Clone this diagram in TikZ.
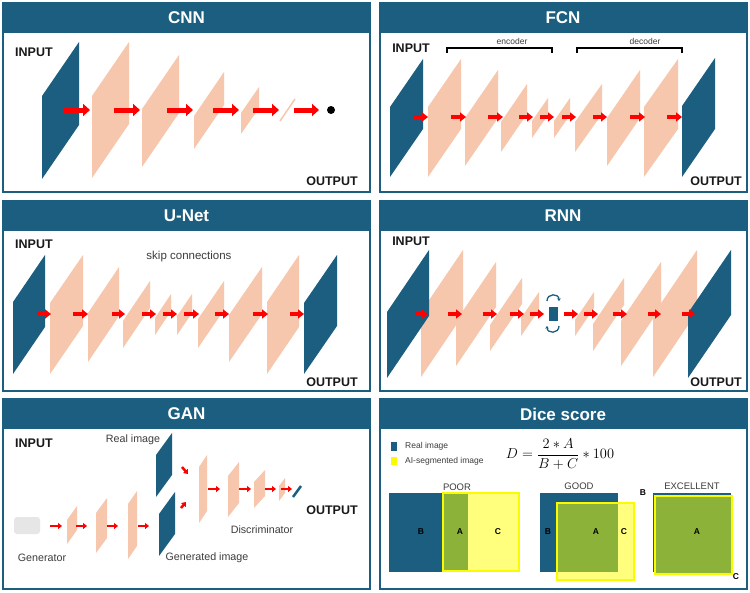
\documentclass[tikz,border=0pt]{standalone}
\usepackage{fontspec}
\setmainfont{Liberation Sans}
\usetikzlibrary{arrows.meta}
\definecolor{myblue}{RGB}{27,94,127}
\definecolor{peach}{RGB}{246,199,173}
\definecolor{arred}{RGB}{255,0,0}
\definecolor{olive}{RGB}{140,178,58}
\definecolor{ylw}{RGB}{250,250,0}
\definecolor{lylw}{RGB}{255,255,125}
\definecolor{txtd}{RGB}{25,25,25}
\definecolor{txtg}{RGB}{60,60,60}
\definecolor{lgray}{RGB}{230,230,230}
\newcommand{\myfs}[1]{\fontsize{#1}{#1}\selectfont}
% style, xleft, xright, right-top y, left-bottom y, height
\newcommand{\plg}[6]{\fill[#1] (#2,{#5-#6}) -- (#3,#4) -- (#3,{#4+#6}) -- (#2,#5) -- cycle;}
\begin{document}
\begin{tikzpicture}[x=1pt,y=-1pt,
  ttl/.style={text=white,font=\myfs{17}\bfseries,inner sep=0},
  io/.style={text=txtd,font=\myfs{12.5}\bfseries,inner sep=0},
  small/.style={text=txtg,font=\myfs{10.7},inner sep=0},
  tiny/.style={text=txtg,font=\myfs{8.5},inner sep=0},
  abc/.style={text=black,font=\myfs{8.5}\bfseries,inner sep=0},
  qual/.style={text=txtg,font=\myfs{9.5},inner sep=0},
  panelb/.style={draw=myblue,line width=2pt},
  arA/.style={draw=arred,line width=5pt,-{Triangle[length=7pt,width=12pt]}},
  arB/.style={draw=arred,line width=4pt,-{Triangle[length=6pt,width=9pt]}},
  arC/.style={draw=arred,line width=2.5pt,-{Triangle[length=4pt,width=6pt]}},
  brk/.style={draw=black,line width=1.1pt}]
\useasboundingbox (0,0) rectangle (750,592);
\fill[white] (0,0) rectangle (750,592);

% ---------- panels ----------
\fill[myblue] (3,3) rectangle (370,33);
\draw[panelb] (3,3) rectangle (370,192);
\node[ttl] (tcnn) at (186.5,18) {CNN};
\fill[myblue] (380,3) rectangle (747,33);
\draw[panelb] (380,3) rectangle (747,192);
\node[ttl] (tfcn) at (563,18) {FCN};
\fill[myblue] (3,201) rectangle (370,231);
\draw[panelb] (3,201) rectangle (370,391);
\node[ttl] (tunet) at (186.5,216) {U-Net};
\fill[myblue] (380,201) rectangle (747,231);
\draw[panelb] (380,201) rectangle (747,391);
\node[ttl] (trnn) at (563,216) {RNN};
\fill[myblue] (3,399) rectangle (370,429);
\draw[panelb] (3,399) rectangle (370,589);
\node[ttl] (tgan) at (186.5,414) {GAN};
\fill[myblue] (380,399) rectangle (747,429);
\draw[panelb] (380,399) rectangle (747,589);
\node[ttl] (tdice) at (563,414) {Dice score};

% ---------- CNN ----------
\plg{peach}{92}{129}{42}{178}{82}
\plg{peach}{142}{179}{55}{167}{58}
\plg{peach}{194}{224}{72}{149}{33}
\plg{peach}{241}{259}{87}{134}{21}
\draw[peach,line width=1.5pt] (280,121) -- (295,99);
\plg{myblue}{42}{79}{42}{179}{83}
\draw[arA] (64,110) -- (90,110);
\draw[arA] (114,110) -- (140,110);
\draw[arA] (167,110) -- (193,110);
\draw[arA] (213,110) -- (239,110);
\draw[arA] (253,110) -- (279,110);
\draw[arA] (294,110) -- (319,110);
\fill[black] (331,110) circle (4);
\node[io] (cnnin) at (34,52) {INPUT};
\node[io] (cnnout) at (332,181) {OUTPUT};

% ---------- FCN ----------
\plg{peach}{428}{461}{59}{177}{70}
\plg{peach}{465}{498}{70}{166}{48}
\plg{peach}{501}{527}{84}{152}{30}
\plg{peach}{532}{548}{98}{138}{17}
\plg{peach}{554}{570}{98}{138}{17}
\plg{peach}{575}{602}{84}{152}{30}
\plg{peach}{607}{640}{70}{166}{48}
\plg{peach}{644}{678}{59}{177}{70}
\plg{myblue}{390}{423}{59}{177}{70}
\plg{myblue}{682}{715}{58}{177}{71}
\draw[arB] (414,117) -- (428,117);
\draw[arB] (451,117) -- (466,117);
\draw[arB] (488,117) -- (503,117);
\draw[arB] (519,117) -- (533,117);
\draw[arB] (540,117) -- (554,117);
\draw[arB] (562,117) -- (576,117);
\draw[arB] (593,117) -- (607,117);
\draw[arB] (630,117) -- (645,117);
\draw[arB] (667,117) -- (682,117);
\draw[brk] (447,53) -- (447,48) -- (552,48) -- (552,53);
\draw[brk] (577,53) -- (577,48) -- (682,48) -- (682,53);
\node[tiny] (enc) at (512,41) {encoder};
\node[tiny] (dec) at (645,41) {decoder};
\node[io] (fcnin) at (411,48) {INPUT};
\node[io] (fcnout) at (716,181) {OUTPUT};

% ---------- U-Net ----------
\plg{peach}{50}{83}{255}{374}{71}
\plg{peach}{88}{119}{267}{362}{49}
\plg{peach}{123}{150}{281}{348}{27}
\plg{peach}{155}{171}{294}{335}{17}
\plg{peach}{177}{192}{294}{335}{19}
\plg{peach}{198}{224}{281}{348}{29}
\plg{peach}{229}{262}{267}{362}{47}
\plg{peach}{267}{299}{255}{374}{72}
\plg{myblue}{13}{45}{255}{374}{72}
\plg{myblue}{304}{337}{255}{374}{71}
\draw[arB] (37,314) -- (51,314);
\draw[arB] (73,314) -- (88,314);
\draw[arB] (112,314) -- (125,314);
\draw[arB] (142,314) -- (156,314);
\draw[arB] (163,314) -- (177,314);
\draw[arB] (184,314) -- (199,314);
\draw[arB] (215,314) -- (229,314);
\draw[arB] (253,314) -- (268,314);
\draw[arB] (290,314) -- (304,314);
\node[small,font=\myfs{11.5}] (skip) at (189,257) {skip connections};
\node[io] (unin) at (34,244) {INPUT};
\node[io] (unout) at (332,382) {OUTPUT};

% ---------- RNN ----------
\plg{peach}{421}{463}{250}{377}{65}
\plg{peach}{456}{496}{262}{366}{45}
\plg{peach}{490}{522}{278}{351}{26}
\plg{peach}{521}{539}{292}{336}{18}
\plg{peach}{575}{594}{292}{336}{16}
\plg{peach}{593}{624}{278}{351}{27}
\plg{peach}{621}{661}{262}{366}{45}
\plg{peach}{653}{697}{250}{377}{62}
\plg{myblue}{387}{429}{250}{378}{66}
\plg{myblue}{688}{731}{250}{378}{65}
\draw[arB] (415,314) -- (428,314);
\draw[arB] (448,314) -- (462,314);
\draw[arB] (483,314) -- (497,314);
\draw[arB] (510,314) -- (524,314);
\draw[arB] (530,314) -- (544,314);
\draw[arB] (564,314) -- (578,314);
\draw[arB] (584,314) -- (598,314);
\draw[arB] (613,314) -- (627,314);
\draw[arB] (648,314) -- (661,314);
\draw[arB] (682,314) -- (695,314);
\fill[myblue] (549,307) rectangle (558,321);
\draw[myblue,line width=1.3pt,-{Stealth[length=2.5pt,width=3.5pt]}] (547,301) .. controls (547,293) and (559,293) .. (559,301);
\draw[myblue,line width=1.3pt,-{Stealth[length=2.5pt,width=3.5pt]}] (559,326) .. controls (559,334) and (547,334) .. (547,326);
\node[io] (rnnin) at (411,241) {INPUT};
\node[io] (rnnout) at (716,382) {OUTPUT};

% ---------- GAN ----------
\fill[lgray,rounded corners=3pt] (14,517) rectangle (40,534);
\plg{peach}{67}{77}{506}{544}{24}
\plg{peach}{96}{107}{498}{553}{40}
\plg{peach}{128}{137}{491}{559}{55}
\plg{peach}{199}{207}{455}{523}{56}
\plg{peach}{228}{239}{462}{517}{41}
\plg{peach}{254}{265}{470}{508}{26}
\plg{peach}{279}{285}{478}{501}{15}
\plg{myblue}{156}{172}{433}{497}{42}
\plg{myblue}{159}{175}{492}{556}{42}
\draw[myblue,line width=2.5pt] (293,497) -- (301,486);
\draw[arC] (50,526) -- (62,526);
\draw[arC] (76,526) -- (87,526);
\draw[arC] (107,526) -- (118,526);
\draw[arC] (138,526) -- (149,526);
\draw[arC] (208,489) -- (220,489);
\draw[arC] (239,489) -- (251,489);
\draw[arC] (265,489) -- (276,489);
\draw[arC] (281,489) -- (292,489);
\draw[arC] (182,467) -- (188,474);
\draw[arC] (181,508) -- (186,502);
\node[io] (ganin) at (34,443) {INPUT};
\node[io] (ganout) at (332,510) {OUTPUT};
\node[small] (real) at (133,440) {Real image};
\node[small] (gen) at (207,558) {Generated image};
\node[small] (genr) at (42,558) {Generator};
\node[small] (disc) at (262,530) {Discriminator};

% ---------- Dice ----------
\fill[myblue] (391,442) rectangle (397,451);
\fill[ylw] (391,457) rectangle (397,465);
\node[tiny,anchor=west] (lreal) at (405,446) {Real image};
\node[tiny,anchor=west] (lai) at (405,461) {AI-segmented image};
\node[inner sep=0,font=\myfs{14}] (formula) at (560,454) {$D=\displaystyle\frac{2\ast A}{B+C}\ast 100$};
% poor
\fill[myblue] (389,493) rectangle (468,572);
\fill[lylw] (443,493) rectangle (519,571);
\fill[olive] (443,493) rectangle (468,571);
\draw[ylw,line width=2pt] (443,493) rectangle (519,571);
\node[qual] (poor) at (457,487) {POOR};
\node[abc] (pb) at (421,532) {B};
\node[abc] (pa) at (460,532) {A};
\node[abc] (pc) at (498,532) {C};
% good
\fill[myblue] (540,493) rectangle (618,572);
\fill[lylw] (557,503) rectangle (634,580);
\fill[olive] (557,503) rectangle (618,572);
\draw[ylw,line width=2pt] (557,503) rectangle (634,580);
\node[qual] (good) at (579,486) {GOOD};
\node[abc] (gb) at (548,532) {B};
\node[abc] (ga) at (596,532) {A};
\node[abc] (gc) at (624,532) {C};
% excellent
\fill[myblue] (653,493) rectangle (731,572);
\fill[olive] (655,496) rectangle (732,574);
\draw[ylw,line width=2pt] (655,496) rectangle (732,574);
\node[qual] (exc) at (692,486) {EXCELLENT};
\node[abc] (eb) at (643,493) {B};
\node[abc] (ea) at (697,532) {A};
\node[abc] (ec) at (736,577) {C};
\end{tikzpicture}
\end{document}
